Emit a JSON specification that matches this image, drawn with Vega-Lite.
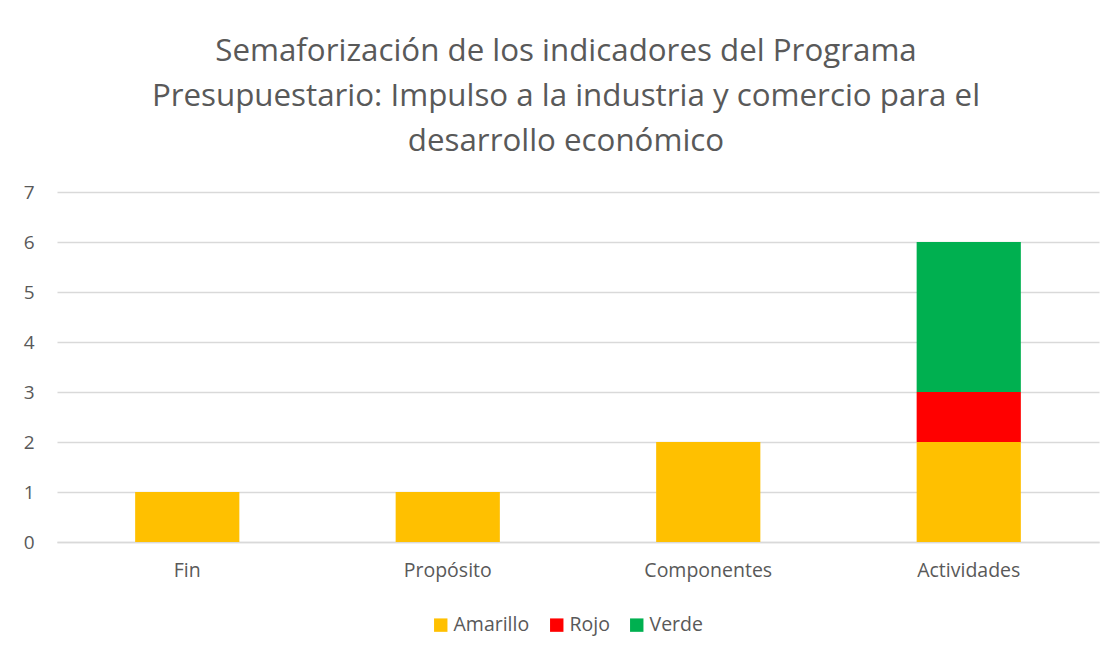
{
  "$schema": "https://vega.github.io/schema/vega-lite/v6.json",
  "autosize": "none",
  "width": 1042,
  "height": 350,
  "padding": {"left": 57, "top": 192, "right": 20, "bottom": 115},
  "background": "white",
  "title": {
    "text": ["Semaforización de los indicadores del Programa", "Presupuestario: Impulso a la industria y comercio para el", "desarrollo económico"],
    "fontSize": 31.3,
    "font": "Open Sans",
    "fontWeight": "normal",
    "color": "#595959",
    "anchor": "middle",
    "dx": -12,
    "offset": 26,
    "lineHeight": 45
  },
  "data": {
    "values": [
      {"nivel": "Fin", "semaforo": "Amarillo", "n": 1},
      {"nivel": "Propósito", "semaforo": "Amarillo", "n": 1},
      {"nivel": "Componentes", "semaforo": "Amarillo", "n": 2},
      {"nivel": "Actividades", "semaforo": "Amarillo", "n": 2},
      {"nivel": "Actividades", "semaforo": "Rojo", "n": 1},
      {"nivel": "Actividades", "semaforo": "Verde", "n": 3}
    ]
  },
  "mark": {"type": "bar"},
  "encoding": {
    "x": {
      "field": "nivel",
      "type": "nominal",
      "sort": ["Fin", "Propósito", "Componentes", "Actividades"],
      "scale": {"paddingInner": 0.6, "paddingOuter": 0.3},
      "axis": {
        "title": null,
        "labelAngle": 0,
        "labelFont": "Open Sans",
        "labelFontSize": 19.5,
        "labelColor": "#595959",
        "labelPadding": 19,
        "ticks": false,
        "domainColor": "#d9d9d9",
        "domainWidth": 1.5
      }
    },
    "y": {
      "field": "n",
      "type": "quantitative",
      "aggregate": "sum",
      "stack": "zero",
      "scale": {"domain": [0, 7], "nice": false},
      "axis": {
        "title": null,
        "values": [0, 1, 2, 3, 4, 5, 6, 7],
        "labelFont": "Open Sans",
        "labelFontSize": 19,
        "labelColor": "#595959",
        "labelPadding": 23,
        "ticks": false,
        "domain": false,
        "gridColor": "#d9d9d9",
        "gridWidth": 1.5
      }
    },
    "order": {"field": "semaforo", "sort": "ascending"},
    "color": {
      "field": "semaforo",
      "type": "nominal",
      "scale": {"domain": ["Amarillo", "Rojo", "Verde"], "range": ["#FFC000", "#FF0000", "#00B050"]},
      "legend": {
        "title": null,
        "orient": "none",
        "direction": "horizontal",
        "legendX": 374,
        "legendY": 423,
        "symbolType": "square",
        "symbolSize": 180,
        "symbolStrokeWidth": 0,
        "symbolOpacity": 1,
        "labelFont": "Open Sans",
        "labelFontSize": 19.5,
        "labelColor": "#595959",
        "labelOffset": 3,
        "columnPadding": 17
      }
    }
  },
  "config": {"view": {"stroke": null}}
}
